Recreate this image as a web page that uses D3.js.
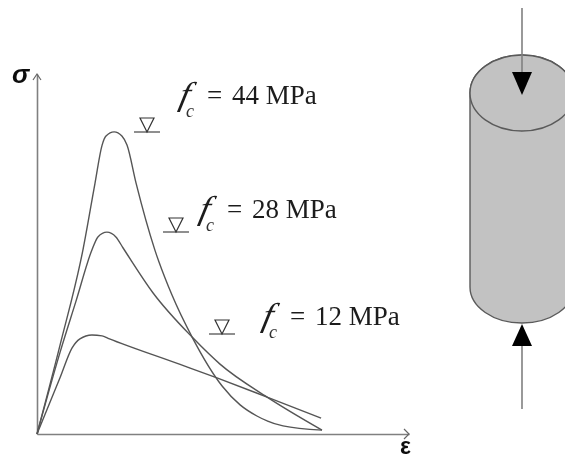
<!DOCTYPE html>
<html>
<head>
<meta charset="utf-8">
<script src="https://cdn.jsdelivr.net/npm/d3@7"></script>
<style>
  html, body { margin: 0; padding: 0; background: #fff; overflow: hidden; }
  svg { display: block; }
  .num { font-family: "Liberation Serif", serif; font-size: 27px; fill: #1c1c1c; }
  .fsym { font-family: "Liberation Serif", serif; font-style: italic; font-size: 33px; fill: #1c1c1c; }
  .sub { font-family: "Liberation Serif", serif; font-style: italic; font-size: 18px; fill: #333; }
  .axlab { font-family: "Liberation Sans", sans-serif; font-weight: 700; fill: #111; }
</style>
</head>
<body>
<svg id="chart" width="565" height="455" viewBox="0 0 565 455"></svg>
<script>
// strain / stress, arbitrary units (schematic, no ticks)
const strain44 = [0, 7.7, 15.3, 19.3, 21.7, 23, 25.7, 28.3, 30, 33, 39.3, 45, 51.7, 61.7, 67.7, 73.3, 82, 95];
const stress44 = [0, 29.7, 61.3, 83.4, 96.3, 99.3, 100.7, 99.3, 96.3, 83.7, 61.3, 46.3, 32.3, 16, 9.7, 6, 2.7, 1.3];
const strain28 = [0, 7.7, 13, 18.3, 20.3, 23.3, 26.3, 28.7, 38.7, 51.7, 61, 76.7, 95];
const stress28 = [0, 27.3, 44.3, 61.3, 65.7, 67.3, 65.7, 62, 47, 32.3, 23.3, 12.3, 1.3];
const strain12 = [0, 7.7, 11.7, 14.3, 18.3, 21.7, 23.7, 47.7, 60, 76.7, 94.7];
const stress12 = [0, 18.8, 28.7, 31.7, 33, 32.7, 31.9, 23.2, 18.7, 12.3, 5.3];
const curves = [[strain44, stress44], [strain28, stress28], [strain12, stress12]];

const fcLabels = ["44", "28", "12"];
// where each label and level mark sits, in pixels
const labelAt = [[175, 104, 207], [195, 218, 227], [258, 325, 290]];
const levelAt = [[147, 132], [176, 232], [222, 334]];

const svg = d3.select("#chart");
const soft = svg.append("defs").append("filter").attr("id", "soft");
soft.append("feGaussianBlur").attr("stdDeviation", 0.35);
const root = svg.append("g").attr("filter", "url(#soft)");

const x = d3.scaleLinear().domain([0, 124]).range([37, 409]);
const y = d3.scaleLinear().domain([0, 120]).range([434, 74]);

// Axes
root.append("g").attr("transform", `translate(0,${y(0)})`)
  .call(d3.axisBottom(x).tickValues([]).tickSizeOuter(0));
root.append("g").attr("transform", `translate(${x(0)},0)`)
  .call(d3.axisLeft(y).tickValues([]).tickSizeOuter(0));
root.selectAll(".domain").attr("stroke", "#808080").attr("stroke-width", 1.6);

root.append("path").attr("fill", "none").attr("stroke", "#666").attr("stroke-width", 1.2)
  .attr("d", `M${x(124) - 5},${y(0) - 5}L${x(124)},${y(0)}L${x(124) - 5},${y(0) + 5}`);
root.append("path").attr("fill", "none").attr("stroke", "#666").attr("stroke-width", 1.2)
  .attr("d", `M${x(0) - 4},${y(120) + 6}L${x(0)},${y(120)}L${x(0) + 4},${y(120) + 6}`);

root.append("text").attr("class", "axlab").attr("x", 12).attr("y", 83)
  .attr("font-size", 26).attr("font-style", "italic").text("σ");
root.append("text").attr("class", "axlab").attr("x", 400).attr("y", 454).attr("font-size", 23).text("ε");

// Stress-strain curves
const line = d3.line().x(d => x(d[0])).y(d => y(d[1])).curve(d3.curveMonotoneX);
curves.forEach(([es, ss]) => {
  root.append("path").datum(es.map((e, i) => [e, ss[i]]))
    .attr("d", line).attr("fill", "none").attr("stroke", "#555").attr("stroke-width", 1.4);
});

// Level marks
levelAt.forEach(([cx, cy]) => {
  root.append("line").attr("x1", cx - 13).attr("x2", cx + 13).attr("y1", cy).attr("y2", cy)
    .attr("stroke", "#444").attr("stroke-width", 1.2);
  root.append("path").attr("d", `M${cx - 7},${cy - 14}H${cx + 7}L${cx},${cy}Z`)
    .attr("fill", "none").attr("stroke", "#333").attr("stroke-width", 1.2);
});

// Labels
fcLabels.forEach((v, i) => {
  const [fx, base, eq] = labelAt[i];
  root.append("text").attr("class", "fsym")
    .attr("transform", `translate(${fx + 3},${base + 1}) skewX(-12) scale(1.1,1)`).text("f");
  root.append("text").attr("class", "sub").attr("x", fx + 11).attr("y", base + 13).text("c");
  root.append("text").attr("class", "num").attr("x", eq).attr("y", base).text("=");
  root.append("text").attr("class", "num").attr("x", eq + 25).attr("y", base).text(`${v} MPa`);
});

// Cylinder
const cx = 522, rx = 52, topY = 93, topRy = 38, botY = 287, botRy = 36;
root.append("path")
  .attr("d", `M${cx - rx},${topY}A${rx},${topRy} 0 0 1 ${cx + rx},${topY}V${botY}A${rx},${botRy} 0 0 1 ${cx - rx},${botY}Z`)
  .attr("fill", "#c2c2c2").attr("stroke", "#5a5a5a").attr("stroke-width", 1.4);
root.append("ellipse").attr("cx", cx).attr("cy", topY).attr("rx", rx).attr("ry", topRy)
  .attr("fill", "#c2c2c2").attr("stroke", "#5a5a5a").attr("stroke-width", 1.4);

// Load arrows
root.append("line").attr("x1", cx).attr("x2", cx).attr("y1", 8).attr("y2", 74).attr("stroke", "#808080").attr("stroke-width", 1.6);
root.append("path").attr("d", `M${cx - 10},72H${cx + 10}L${cx},95Z`).attr("fill", "#000");
root.append("line").attr("x1", cx).attr("x2", cx).attr("y1", 409).attr("y2", 344).attr("stroke", "#808080").attr("stroke-width", 1.6);
root.append("path").attr("d", `M${cx - 10},346H${cx + 10}L${cx},324Z`).attr("fill", "#000");
</script>
</body>
</html>
